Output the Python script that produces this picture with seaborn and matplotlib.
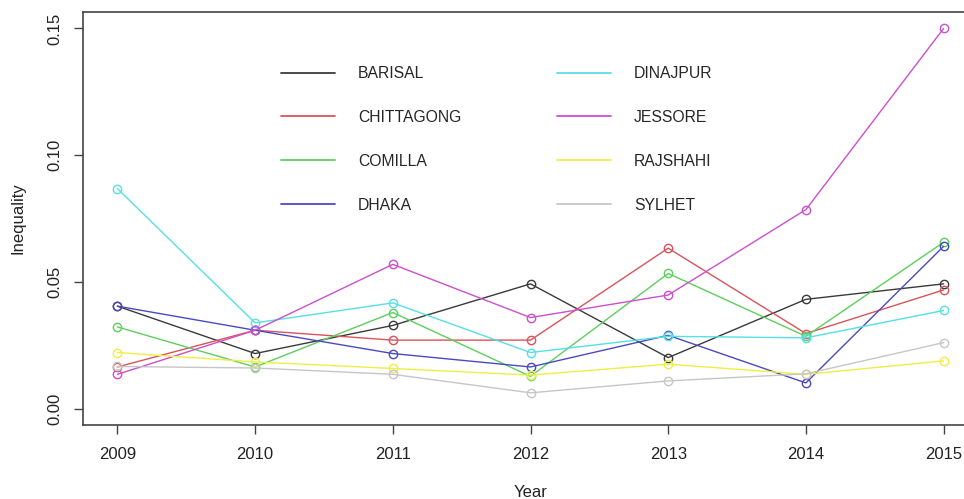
import matplotlib
matplotlib.use("Agg")
import matplotlib.pyplot as plt
from matplotlib.lines import Line2D
import seaborn as sns
import pandas as pd

years = [2009, 2010, 2011, 2012, 2013, 2014, 2015]

divisions = ["BARISAL", "CHITTAGONG", "COMILLA", "DHAKA",
             "DINAJPUR", "JESSORE", "RAJSHAHI", "SYLHET"]

barisal    = [0.0404, 0.0217, 0.0328, 0.0492, 0.0201, 0.0431, 0.0492]
chittagong = [0.0164, 0.0309, 0.0270, 0.0270, 0.0633, 0.0296, 0.0468]
comilla    = [0.0322, 0.0164, 0.0379, 0.0127, 0.0533, 0.0285, 0.0656]
dhaka      = [0.0404, 0.0309, 0.0217, 0.0164, 0.0289, 0.0101, 0.0640]
dinajpur   = [0.0868, 0.0338, 0.0417, 0.0221, 0.0285, 0.0279, 0.0387]
jessore    = [0.0135, 0.0309, 0.0569, 0.0359, 0.0448, 0.0785, 0.1500]
rajshahi   = [0.0221, 0.0184, 0.0158, 0.0132, 0.0175, 0.0135, 0.0188]
sylhet     = [0.0166, 0.0160, 0.0135, 0.0062, 0.0109, 0.0137, 0.0260]

series = [barisal, chittagong, comilla, dhaka, dinajpur, jessore, rajshahi, sylhet]

colors = ["#3a3a3a", "#d9545a", "#5ccf5c", "#4a4ac0",
          "#55e0e6", "#cc4fcc", "#eeee44", "#c6c6c6"]

df = pd.DataFrame({
    "Year": years * len(divisions),
    "Inequality": [v for s in series for v in s],
    "Division": [d for d in divisions for _ in years],
})

sns.set_style("white")
plt.rcParams["font.family"] = ["Liberation Sans", "DejaVu Sans"]

fig = plt.figure(figsize=(9.64, 4.99), dpi=100)
ax = fig.add_axes([83 / 964, (499 - 425) / 499, (978 - 83) / 964, (425 - 12) / 499])

for name, col in zip(divisions, colors):
    sub = df[df["Division"] == name]
    sns.lineplot(data=sub, x="Year", y="Inequality", ax=ax, color=col,
                 linewidth=1.0, marker="o", markersize=6,
                 markerfacecolor="none", markeredgecolor=col,
                 markeredgewidth=1.0, legend=False)

ax.set_xlim(2008.75, 2015.25)
ax.set_ylim(-0.0065, 0.1565)
ax.set_xticks(years)
ax.set_xticklabels([str(y) for y in years])
ax.set_yticks([0.00, 0.05, 0.10, 0.15])
ax.set_yticklabels(["0.00", "0.05", "0.10", "0.15"], rotation=90, va="center")

for sp in ax.spines.values():
    sp.set_color("#444444")
    sp.set_linewidth(1.2)
ax.spines["right"].set_visible(False)

ax.tick_params(axis="both", direction="out", length=6.5, width=1.0,
               color="#444444", labelsize=12, labelcolor="#222222",
               left=True, bottom=True)
ax.tick_params(axis="x", pad=9)
ax.tick_params(axis="y", pad=8)

ax.set_xlabel("Year", fontsize=12, color="#222222", labelpad=17)
ax.set_ylabel("Inequality", fontsize=12, color="#222222", labelpad=16)

handles = [Line2D([0], [0], color=c, linewidth=1.3) for c in colors]
ax.legend(handles, divisions, ncol=2, frameon=False, fontsize=11.3,
          loc="upper left", bbox_to_anchor=(281 / 964, 1 - 66 / 499),
          bbox_transform=fig.transFigure, borderpad=0, borderaxespad=0,
          handlelength=3.45, handletextpad=1.46, labelspacing=1.84,
          columnspacing=6.1)

fig.savefig("out.png", dpi=100)
